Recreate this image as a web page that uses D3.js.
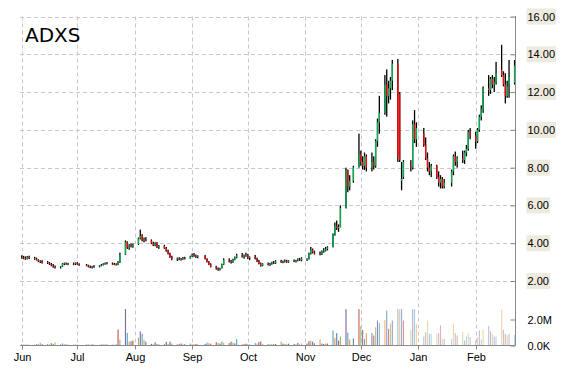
<!DOCTYPE html>
<head>
    <style>
    body { margin: 0; background: #fff; }
    svg { font-family: "DejaVu Sans", Verdana, sans-serif; }
    .grid line { stroke: #c8c8c8; stroke-dasharray: 4,3; }
    .axis path, .axis line { stroke: #888; }
    .axis text { font-size: 11px; fill: #000; }
    .wick { fill: #000; }
    </style>
    <script src="https://d3js.org/d3.v7.min.js"></script>
</head>
<body>
    <svg width="570" height="370"></svg>
    <script>

    var ticker = "ADXS";

    // one row per trading day, [open, high, low, close], a line per week
    var ohlc = [
      [3.28,3.36,3.18,3.25],[3.25,3.33,3.15,3.20],[3.22,3.30,3.12,3.15],[3.16,3.32,3.14,3.28],[3.27,3.34,3.16,3.22],
      [3.22,3.28,3.12,3.18],[3.18,3.24,3.08,3.12],[3.12,3.15,3.00,3.04],[3.04,3.10,2.95,3.08],[3.06,3.10,2.92,2.96],
      [3.00,3.06,2.90,2.95],[2.95,3.00,2.85,2.90],[2.88,2.95,2.78,2.82],[2.82,2.90,2.70,2.76],[2.76,2.82,2.66,2.72],
      [2.74,2.80,2.66,2.78],[2.78,2.94,2.75,2.90],[2.90,2.98,2.84,2.94],[2.93,2.98,2.86,2.90],[2.90,2.96,2.84,2.92],
      [2.92,2.98,2.84,2.88],[2.90,2.98,2.84,2.94],[2.94,3.00,2.86,2.90],[2.88,2.94,2.80,2.84],
      [2.84,2.90,2.78,2.82],[2.82,2.86,2.72,2.76],[2.76,2.82,2.68,2.72],[2.72,2.80,2.66,2.78],[2.78,2.84,2.70,2.74],
      [2.76,2.84,2.72,2.82],[2.82,2.90,2.78,2.86],[2.86,2.94,2.82,2.90],[2.90,2.98,2.86,2.94],[2.94,3.00,2.88,2.92],
      [2.92,2.98,2.86,2.90],[2.90,2.96,2.84,2.88],[2.88,2.94,2.82,2.86],[2.86,3.05,2.84,3.00],[3.00,3.50,2.96,3.40],
      [3.40,4.15,3.38,4.05],[4.05,4.10,3.70,3.78],[3.78,3.95,3.65,3.88],[3.88,4.00,3.78,3.82],[3.82,3.98,3.76,3.94],
      [3.96,4.30,3.90,4.25],[4.25,4.72,4.20,4.40],[4.40,4.48,4.10,4.15],[4.15,4.30,4.05,4.22],[4.22,4.32,4.10,4.14],
      [4.14,4.20,3.95,4.00],[4.00,4.08,3.85,3.90],[3.90,4.05,3.84,4.00],[4.00,4.06,3.75,3.80],[3.80,3.90,3.70,3.86],
      [3.86,3.92,3.70,3.74],[3.74,3.80,3.55,3.60],[3.60,3.66,3.40,3.45],[3.45,3.50,3.22,3.28],[3.28,3.34,3.10,3.16],
      [3.14,3.24,3.06,3.20],[3.20,3.26,3.10,3.14],[3.14,3.22,3.08,3.18],[3.18,3.27,3.12,3.22],[3.22,3.28,3.14,3.20],
      [3.20,3.34,3.18,3.30],[3.30,3.46,3.26,3.40],[3.40,3.48,3.28,3.32],[3.32,3.40,3.22,3.28],[3.28,3.36,3.20,3.32],
      [3.32,3.38,3.14,3.18],[3.18,3.20,2.98,3.02],[3.02,3.06,2.84,2.88],[2.88,2.94,2.72,2.76],
      [2.76,2.80,2.60,2.66],[2.66,2.72,2.54,2.62],[2.62,2.70,2.56,2.68],[2.68,2.92,2.66,2.88],[2.88,3.20,2.85,3.12],
      [3.12,3.20,2.98,3.04],[3.04,3.12,2.92,3.00],[3.00,3.18,2.96,3.14],[3.14,3.30,3.10,3.26],[3.26,3.44,3.20,3.36],
      [3.36,3.48,3.24,3.30],[3.30,3.40,3.18,3.36],[3.36,3.50,3.28,3.40],[3.40,3.44,3.16,3.22],[3.22,3.30,3.10,3.26],
      [3.26,3.38,3.14,3.18],[3.18,3.24,3.00,3.06],[3.06,3.12,2.88,2.92],[2.92,2.98,2.76,2.82],[2.82,2.94,2.78,2.90],
      [2.90,2.98,2.82,2.86],[2.86,2.96,2.80,2.92],[2.92,3.02,2.86,2.98],[2.98,3.06,2.90,2.94],[2.94,3.10,2.90,3.04],
      [3.04,3.12,2.96,3.00],[3.00,3.08,2.94,3.04],[3.04,3.14,2.98,3.08],[3.08,3.12,2.96,3.00],[3.00,3.10,2.96,3.06],
      [3.06,3.14,3.00,3.04],[3.04,3.12,2.98,3.10],[3.10,3.20,3.04,3.14],[3.14,3.22,3.06,3.10],[3.10,3.26,3.04,3.20],
      [3.12,3.20,3.06,3.16],[3.16,3.50,3.14,3.44],[3.44,3.80,3.40,3.66],[3.66,3.72,3.46,3.52],[3.52,3.60,3.40,3.46],
      [3.46,3.56,3.36,3.40],[3.40,3.62,3.38,3.56],[3.56,3.74,3.50,3.62],[3.62,3.80,3.56,3.70],[3.70,3.84,3.62,3.78],
      [3.80,4.52,3.78,4.46],[4.46,5.10,4.40,4.92],[4.92,5.20,4.70,4.80],[4.80,5.00,4.60,4.86],[4.86,6.00,4.84,5.86],
      [5.90,8.00,5.84,7.86],[7.86,7.90,6.70,7.00],[7.00,7.60,6.80,7.30],[7.30,8.10,7.20,8.02],
      [8.02,9.80,8.00,8.70],[8.70,8.90,8.10,8.30],[8.30,8.60,7.90,8.10],[8.10,8.80,7.88,8.60],[8.60,8.70,7.80,8.00],
      [8.00,8.80,7.80,8.30],[8.30,8.60,7.90,8.10],[8.10,9.50,8.00,9.40],[9.40,10.60,9.10,10.40],[10.40,11.80,9.80,10.90],
      [10.90,12.90,10.80,12.40],[12.40,13.20,10.70,11.80],[11.80,12.60,11.40,12.20],[12.20,12.80,11.60,12.60],[12.60,13.70,12.10,13.50],
      [13.50,13.75,8.30,8.60],[11.90,12.00,8.30,8.40],[7.30,8.30,6.80,7.40],[7.50,8.40,7.40,8.30],
      [8.10,8.40,7.80,8.00],[8.00,10.50,7.90,10.30],[10.30,11.05,9.30,9.50],[9.50,10.40,9.10,10.10],
      [9.80,10.10,9.10,9.20],[9.20,9.60,8.40,8.50],[8.50,8.80,7.80,8.00],[8.00,8.30,7.60,7.80],[7.80,8.20,7.50,8.10],
      [8.10,8.15,7.40,7.50],[7.50,7.80,7.00,7.20],[7.20,7.60,6.90,7.40],[7.40,7.50,6.90,7.00],[7.00,7.40,6.90,7.20],
      [7.20,7.90,7.00,7.80],[7.80,8.70,7.60,8.60],[8.60,8.85,8.10,8.30],[8.30,8.60,8.00,8.50],
      [8.50,8.90,8.25,8.40],[8.40,8.90,8.20,8.80],[8.80,9.20,8.60,9.00],[9.00,10.00,8.90,9.90],[9.90,10.10,9.50,9.70],
      [9.70,9.90,9.00,9.40],[9.40,10.10,9.30,10.00],[10.00,10.80,9.90,10.70],[10.70,11.30,10.50,11.10],[11.10,12.30,10.90,12.20],
      [12.20,12.90,11.80,12.10],[12.10,12.80,11.90,12.70],[12.70,12.90,12.20,12.40],[12.40,12.80,12.00,12.50],[12.50,13.60,12.40,13.00],
      [13.20,14.50,12.80,12.90],[12.90,13.10,12.30,12.40],[12.40,13.00,11.40,11.80],[11.80,12.60,11.70,12.30],[12.40,13.70,11.70,12.80],
      [12.50,13.70,12.40,13.40]
    ];

    // daily volume, millions of shares
    var volume = [
      0.08,0.06,0.08,0.07,0.06,  0.06,0.10,0.08,0.22,0.10,  0.12,0.08,0.18,0.10,0.24,
      0.08,0.16,0.10,0.08,0.06,  0.08,0.06,0.07,0.05,       0.08,0.07,0.06,0.09,0.07,
      0.06,0.08,0.07,0.10,0.08,  0.07,0.06,0.08,1.23,0.46,  2.80,0.97,0.30,0.33,0.38,
      0.60,1.08,0.90,0.45,0.30,  0.12,0.10,0.25,0.12,0.10,  0.10,0.28,0.12,0.30,0.15,
      0.12,0.10,0.16,0.08,0.10,  0.15,0.10,0.08,0.12,0.10,  0.12,0.22,0.18,0.14,
      0.25,0.20,0.15,0.30,0.22,  0.18,0.30,0.22,0.16,0.50,  0.12,0.10,0.14,0.12,0.08,
      0.20,0.15,0.26,0.32,0.12,  0.10,0.08,0.12,0.10,0.12,  0.30,0.15,0.10,0.12,0.14,
      0.12,0.10,0.20,0.08,0.15,  0.15,0.33,0.38,0.30,0.18,  0.46,0.15,0.12,0.15,0.15,
      1.15,0.59,0.95,0.38,0.69,  2.80,1.00,0.46,0.54,       2.80,1.49,1.20,0.50,0.95,
      0.95,0.77,1.40,1.92,1.72,  1.97,2.69,1.28,1.67,1.92,  2.80,2.80,2.80,1.92,
      1.20,2.80,2.80,1.67,       0.69,1.00,1.92,0.90,0.90,  0.90,0.95,1.54,0.51,0.51,
      0.49,1.67,0.95,0.77,       1.05,0.38,0.69,0.97,0.64,  0.38,0.64,1.15,0.46,1.23,
      1.49,1.10,0.90,0.69,0.69,  2.80,1.23,0.90,0.80,0.90,  0.80
    ];

    var firstDay = "2015-06-01",
        lastDay = "2016-02-22";
    var holidays = ["2015-07-03", "2015-09-07", "2015-11-26", "2015-12-25", "2016-01-01", "2016-01-18"];

    var priceTicks = [2, 4, 6, 8, 10, 12, 14, 16];
    var volumeTicks = [0, 2];
    var volumeLabels = ["0.0K", "2.0M"];

    var svg = d3.select("svg");

    var parse = d3.timeParse("%Y-%m-%d"),
        fmt = d3.timeFormat("%Y-%m-%d");

    var days = d3.timeDay.range(parse(firstDay), d3.timeDay.offset(parse(lastDay), 1))
        .filter(function(d) { return d.getDay() > 0 && d.getDay() < 6 && holidays.indexOf(fmt(d)) < 0; });

    var data = days.map(function(d, i) {
      return {date: d, o: ohlc[i][0], h: ohlc[i][1], l: ohlc[i][2], c: ohlc[i][3], v: volume[i]};
    });

    var plotLeft = 20, plotRight = 515.5, plotBottom = 345.5, plotTop = 16.5;

    var x = d3.scaleTime()
        .domain([parse(firstDay), parse(lastDay)])
        .range([21.7, 514.6]);

    var y = d3.scaleLinear()
        .domain([2, 16])
        .range([281, plotTop]);

    var yv = d3.scaleLinear()
        .domain([0, 2])
        .range([plotBottom, 319.5]);

    var months = x.ticks(d3.timeMonth.every(1));

    // grid
    var grid = svg.append("g").attr("class", "grid");
    grid.selectAll(".h")
        .data(priceTicks)
      .enter().append("line")
        .attr("x1", plotLeft).attr("x2", plotRight)
        .attr("y1", function(d) { return Math.round(y(d)) + 0.5; })
        .attr("y2", function(d) { return Math.round(y(d)) + 0.5; });
    grid.selectAll(".v")
        .data(months)
      .enter().append("line")
        .attr("x1", function(d) { return Math.round(x(d)) + 0.5; })
        .attr("x2", function(d) { return Math.round(x(d)) + 0.5; })
        .attr("y1", plotTop).attr("y2", plotBottom);

    // volume
    svg.append("defs").append("clipPath").attr("id", "vclip")
      .append("rect").attr("x", plotLeft).attr("y", 309).attr("width", plotRight - plotLeft).attr("height", plotBottom - 309);

    var vcolor = d3.scaleOrdinal(["#4f81bd", "#c0504d", "#9bbb59", "#8064a2", "#4bacc6", "#f79646"]);
    var fade = d3.scaleTime()
        .domain([parse("2015-11-25"), parse("2016-01-05")])
        .range([1, 0.45])
        .clamp(true);

    svg.append("g")
        .attr("clip-path", "url(#vclip)")
      .selectAll("rect")
      .data(data)
      .enter().append("rect")
        .attr("x", function(d) { return x(d.date) - 0.55; })
        .attr("width", 1.1)
        .attr("y", function(d) { return yv(d.v); })
        .attr("height", function(d) { return plotBottom - yv(d.v); })
        .attr("fill", function(d, i) { return vcolor(i % 6); })
        .attr("fill-opacity", function(d) { return fade(d.date); });

    // candles
    var candle = svg.append("g").selectAll("g")
        .data(data)
      .enter().append("g");

    candle.append("rect")
        .attr("class", "wick")
        .attr("x", function(d) { return x(d.date) - 0.65; })
        .attr("width", 1.3)
        .attr("y", function(d) { return y(d.h); })
        .attr("height", function(d) { return Math.max(1, y(d.l) - y(d.h)); });

    candle.append("rect")
        .attr("x", function(d) { return x(d.date) - 0.65; })
        .attr("width", 1.3)
        .attr("y", function(d) { return y(Math.max(d.o, d.c)); })
        .attr("height", function(d) { return Math.max(0.8, Math.abs(y(d.o) - y(d.c))); })
        .attr("fill", function(d) { return d.c >= d.o ? "#00b050" : "#ff0000"; });

    // right axis
    var yAxis = svg.append("g")
        .attr("class", "axis")
        .attr("transform", "translate(" + plotRight + ",0)")
        .call(d3.axisRight(y).tickValues(priceTicks).tickFormat(d3.format(".2f"))
          .tickSizeInner(-5).tickSizeOuter(0).tickPadding(12));
    yAxis.select(".domain").remove();
    yAxis.selectAll(".tick").each(function() {
      var t = d3.select(this).select("text"),
          b = t.node().getBBox();
      d3.select(this).insert("rect", "text")
          .attr("x", b.x - 1).attr("y", b.y - 2)
          .attr("width", b.width + 2).attr("height", b.height + 4)
          .attr("fill", "#edeadf");
    });

    var vAxis = svg.append("g")
        .attr("class", "axis")
        .attr("transform", "translate(" + plotRight + ",0)")
        .call(d3.axisRight(yv).tickValues(volumeTicks)
          .tickFormat(function(d, i) { return volumeLabels[i]; })
          .tickSizeInner(-5).tickSizeOuter(0).tickPadding(12));
    vAxis.select(".domain").remove();

    svg.append("line")
        .attr("x1", plotRight).attr("x2", plotRight)
        .attr("y1", plotTop - 0.5).attr("y2", plotBottom)
        .attr("stroke", "#888");

    // bottom axis
    var xAxis = svg.append("g")
        .attr("class", "axis")
        .attr("transform", "translate(0," + plotBottom + ")")
        .call(d3.axisBottom(x).tickValues(months).tickFormat(d3.timeFormat("%b"))
          .tickSizeInner(4).tickSizeOuter(0).tickPadding(4));
    xAxis.select(".domain").remove();
    xAxis.selectAll(".tick").attr("transform", function(d) { return "translate(" + (Math.round(x(d)) + 0.5) + ",0)"; });

    svg.append("line")
        .attr("x1", plotLeft).attr("x2", plotRight)
        .attr("y1", plotBottom).attr("y2", plotBottom)
        .attr("stroke", "#888");

    svg.append("text")
        .attr("x", 25)
        .attr("y", 42)
        .style("font-size", "20px")
        .text(ticker);

    </script>
</body>
